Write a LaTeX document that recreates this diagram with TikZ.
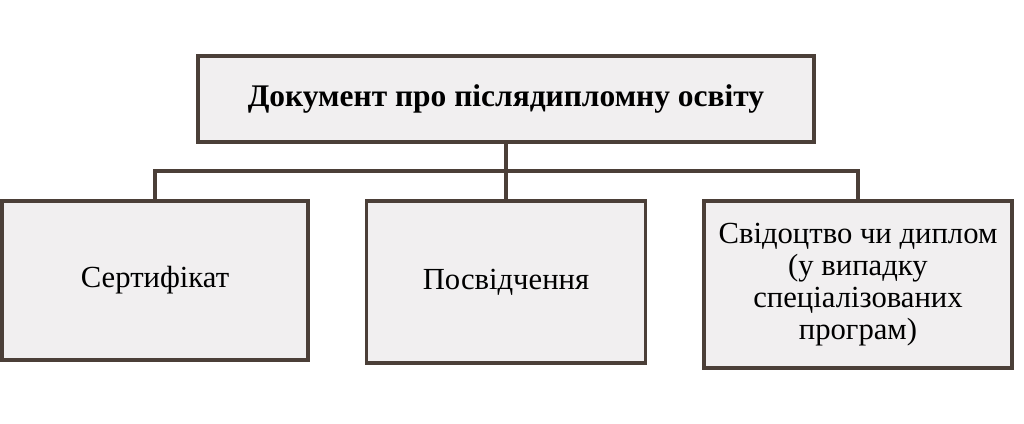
\documentclass[tikz,border=0pt]{standalone}
\usepackage{fontspec}
\setmainfont{Liberation Serif}
\definecolor{edgec}{HTML}{4B3F38}
\definecolor{fillc}{HTML}{F1EFF0}
\begin{document}
\begin{tikzpicture}[x=0.75pt,y=-0.75pt,
  box/.style={draw=edgec,fill=fillc,line width=2.4pt,rectangle,inner sep=0pt,align=center,font=\fontsize{23}{24}\selectfont},
  link/.style={draw=edgec,line width=2.3pt}]
\useasboundingbox (0,0) rectangle (1024,424);
\node[box,minimum width=616*0.75pt,minimum height=86*0.75pt,font=\fontsize{23.6}{26}\selectfont\bfseries] (top) at (506,99) {Документ про післядипломну освіту};
\node[box,minimum width=306*0.75pt,minimum height=159*0.75pt] (left) at (155,280.5) {Сертифікат};
\node[box,minimum width=279*0.75pt,minimum height=162*0.75pt] (mid) at (506,282) {Посвідчення};
\node[box,minimum width=308*0.75pt,minimum height=167*0.75pt] (right) at (858,284.5) {Свідоцтво чи диплом\\(у випадку\\спеціалізованих\\програм)};
\coordinate (j) at (506,171);
\draw[link] (top.south) -- (mid.north);
\draw[link] (left.north) |- (j) -| (right.north);
\end{tikzpicture}
\end{document}
